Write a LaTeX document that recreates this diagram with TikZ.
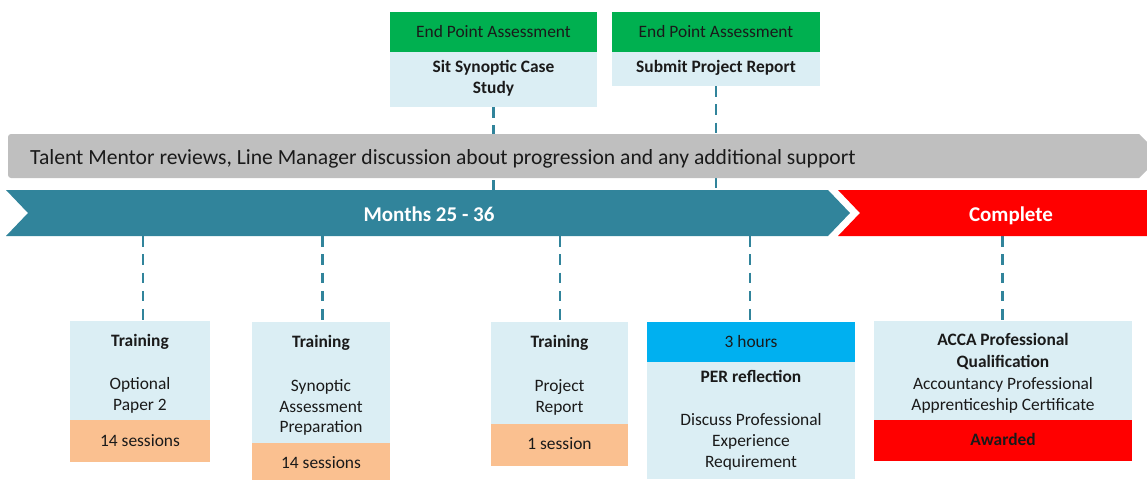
\documentclass[tikz,border=0pt]{standalone}
\usepackage{fontspec}
\setmainfont{Carlito}
\definecolor{teal1}{HTML}{31849B}
\definecolor{grn}{HTML}{00B050}
\definecolor{lblue}{HTML}{DBEEF4}
\definecolor{orng}{HTML}{FAC090}
\definecolor{sky}{HTML}{00B0F0}
\definecolor{redc}{HTML}{FF0000}
\definecolor{grayb}{HTML}{BFBFBF}
\definecolor{txt}{HTML}{1A1A1A}
\begin{document}
\begin{tikzpicture}[x=1pt,y=-1pt,
  panel/.style={fill=#1, draw=none, inner sep=0pt, outer sep=0pt, anchor=north west},
  lbl/.style={anchor=base, inner sep=0pt, text=txt, font=\fontsize{17.4}{21}\selectfont},
  blbl/.style={anchor=base, inner sep=0pt, text=txt, font=\fontsize{17.4}{21}\selectfont\bfseries},
  barlbl/.style={anchor=base, inner sep=0pt, text=white, font=\fontsize{21}{25}\selectfont\bfseries},
  link/.style={draw=teal1, line width=2.6pt, dash pattern=on 10.5pt off 7.8pt}]
\useasboundingbox (0,0) rectangle (1147,479);

% top boxes
\node[panel=grn, minimum width=207pt, minimum height=40pt] (e1h) at (390,12) {};
\node[panel=lblue, minimum width=207pt, minimum height=55pt] (e1b) at (390,52) {};
\node[panel=grn, minimum width=208pt, minimum height=40pt] (e2h) at (612,12) {};
\node[panel=lblue, minimum width=208pt, minimum height=34pt] (e2b) at (612,52) {};

% bar coordinates
\coordinate (tp1) at (494,190);
\coordinate (tp2) at (715,190);
\coordinate (bt1) at (143,236);
\coordinate (bt2) at (322.5,236);
\coordinate (bt3) at (560,236);
\coordinate (bt4) at (750,236);
\coordinate (bt5) at (1002.5,236);

% bottom boxes
\node[panel=lblue, minimum width=140pt, minimum height=99pt] (b1) at (70,321) {};
\node[panel=orng, minimum width=140pt, minimum height=42pt] (b1s) at (70,420) {};
\node[panel=lblue, minimum width=138pt, minimum height=121pt] (b2) at (252,322) {};
\node[panel=orng, minimum width=138pt, minimum height=37pt] (b2s) at (252,443) {};
\node[panel=lblue, minimum width=137pt, minimum height=102pt] (b3) at (491,322) {};
\node[panel=orng, minimum width=137pt, minimum height=42pt] (b3s) at (491,424) {};
\node[panel=sky, minimum width=208pt, minimum height=40pt] (b4h) at (647,322) {};
\node[panel=lblue, minimum width=208pt, minimum height=117pt] (b4) at (647,362) {};
\node[panel=lblue, minimum width=258pt, minimum height=99pt] (b5) at (874,321) {};
\node[panel=redc, minimum width=258pt, minimum height=41pt] (b5s) at (874,420) {};

% connectors (behind bars)
\draw[link] (e1b.south) -- (e1b.south |- tp1);
\draw[link] (e2b.south) -- (e2b.south |- tp2);
\draw[link] (bt1) -- (bt1 |- b1.north);
\draw[link] (bt2) -- (bt2 |- b2.north);
\draw[link] (bt3) -- (bt3 |- b3.north);
\draw[link] (bt4) -- (bt4 |- b4h.north);
\draw[link] (bt5) -- (bt5 |- b5.north);

% grey bar
\fill[grayb] (1161,156) -- (1139,134) [rounded corners=3pt] -- (8,134) -- (8,178) [sharp corners] -- (1139,178) -- cycle;
\node[anchor=base west, inner sep=0pt, text=txt, font=\fontsize{21.6}{26}\selectfont] (gt) at (30,164)
  {Talent Mentor reviews, Line Manager discussion about progression and any additional support};

% chevron bars
\fill[teal1] (6,190) -- (828,190) -- (850,213) -- (828,236) -- (6,236) -- (28,213) -- cycle;
\fill[redc] (838,190) -- (1150,190) -- (1150,236) -- (838,236) -- (860,213) -- cycle;
\node[barlbl] (mo) at (429,221.2) {Months 25 - 36};
\node[barlbl] (co) at (1011,221.2) {Complete};

% top texts
\node[lbl] (t1a) at (493.5,37.3) {End Point Assessment};
\node[blbl] (t1b) at (493.5,72.3) {Sit Synoptic Case};
\node[blbl] (t1c) at (493.5,93.9) {Study};
\node[lbl] (t2a) at (716,37.3) {End Point Assessment};
\node[blbl] (t2b) at (716,72.3) {Submit Project Report};

% bottom texts
\node[blbl] (x1a) at (140,346.3) {Training};
\node[lbl] (x1b) at (140,389.6) {Optional};
\node[lbl] (x1c) at (140,410.9) {Paper 2};
\node[lbl] (x1d) at (140,446.6) {14 sessions};

\node[blbl] (x2a) at (321,347.6) {Training};
\node[lbl] (x2b) at (321,391.3) {Synoptic};
\node[lbl] (x2c) at (321,412.1) {Assessment};
\node[lbl] (x2d) at (321,432.6) {Preparation};
\node[lbl] (x2e) at (321,468.3) {14 sessions};

\node[blbl] (x3a) at (559.5,347.6) {Training};
\node[lbl] (x3b) at (559.5,391.3) {Project};
\node[lbl] (x3c) at (559.5,412.3) {Report};
\node[lbl] (x3d) at (559.5,449.6) {1 session};

\node[lbl] (x4a) at (751,347.6) {3 hours};
\node[blbl] (x4b) at (751,382.3) {PER reflection};
\node[lbl] (x4c) at (751,425.6) {Discuss Professional};
\node[lbl] (x4d) at (751,446.8) {Experience};
\node[lbl] (x4e) at (751,467.6) {Requirement};

\node[blbl] (x5a) at (1003,345.6) {ACCA Professional};
\node[blbl] (x5b) at (1003,367.6) {Qualification};
\node[lbl] (x5c) at (1003,389.6) {Accountancy Professional};
\node[lbl] (x5d) at (1003,410.6) {Apprenticeship Certificate};
\node[blbl] (x5e) at (1003,445.6) {Awarded};
\end{tikzpicture}
\end{document}
